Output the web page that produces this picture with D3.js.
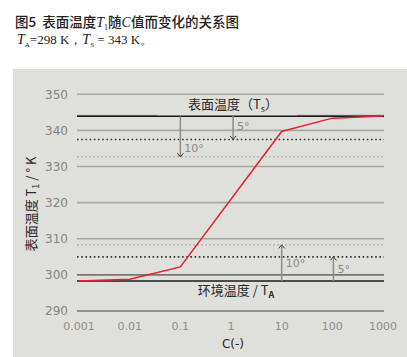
<!DOCTYPE html>
<html><head><meta charset="utf-8">
<script src="https://cdn.jsdelivr.net/npm/d3@7"></script>
<style>body{margin:0;background:#fff}svg{display:block}</style>
</head><body>
<svg id="c" width="407" height="357"></svg>
<script>
// Data
const xTicks = [0.001, 0.01, 0.1, 1, 10, 100, 1000];
const xTickLabels = ["0.001", "0.01", "0.1", "1", "10", "100", "1000"];
const yTicks = [290, 300, 310, 320, 330, 340, 350];
const curveC = [0.001, 0.01, 0.1, 10, 100, 1000];
const curveT = [298.3, 298.8, 302.2, 339.7, 343.4, 344.0];
const surfaceT = 343.9;   // drawn line Ts
const ambientT = 298.3;   // drawn line TA
const dotStrong = [337.5, 305.0];  // 5° lines
const dotLight = [332.7, 308.3];   // 10° lines
const arrows = [
  {c: 0.1,  from: 343.9, to: 332.7, label: "10°"},
  {c: 1.1,  from: 343.9, to: 337.5, label: "5°"},
  {c: 10,   from: 298.3, to: 308.3, label: "10°"},
  {c: 105,  from: 298.3, to: 305.0, label: "5°"}
];

const svg = d3.select("#c");
const x = d3.scaleLog().domain([0.001, 1000]).range([79, 383]);
const y = d3.scaleLinear().domain([290, 350]).range([311, 94.3]);
const x0 = 77, x1 = 384;

// panel
svg.append("rect").attr("x", 13).attr("y", 69).attr("width", 394).attr("height", 288).attr("fill", "#dfdfdb");

// title
const t1 = svg.append("text").attr("x", 15).attr("y", 27).attr("font-size", 13.5).attr("font-family", "'Noto Sans CJK SC', sans-serif").attr("font-weight", 500).attr("fill", "#222");
t1.append("tspan").text("图5\u00a0\u00a0表面温度");
t1.append("tspan").attr("font-family", "'Liberation Serif', serif").attr("font-style", "italic").attr("font-size", 14).text("T");
t1.append("tspan").attr("font-family", "'Liberation Serif', serif").attr("font-size", 8).attr("dy", 3).text("1");
t1.append("tspan").attr("dy", -3).text("随");
t1.append("tspan").attr("font-family", "'Liberation Serif', serif").attr("font-style", "italic").attr("font-size", 14).text("C");
t1.append("tspan").text("值而变化的关系图");

const t2 = svg.append("text").attr("x", 17).attr("y", 44).attr("font-size", 13).attr("font-family", "'Liberation Serif', serif").attr("fill", "#222");
t2.append("tspan").attr("font-style", "italic").attr("font-size", 14).text("T");
t2.append("tspan").attr("font-size", 7).attr("dy", 3).text("A");
t2.append("tspan").attr("dy", -3).text("=298 K，");
t2.append("tspan").attr("font-style", "italic").attr("font-size", 14).text("T");
t2.append("tspan").attr("font-size", 7).attr("dy", 3).text("S");
t2.append("tspan").attr("dy", -3).text("\u00a0= 343 K。");

// gridlines
svg.append("g").selectAll("line").data(yTicks).join("line")
  .attr("x1", x0).attr("x2", x1).attr("y1", d => y(d)).attr("y2", d => y(d))
  .attr("stroke", d => d === 290 ? "#7a7a6c" : (d === 300 ? "#777770" : "#a9a99d")).attr("stroke-width", 1.6);

// y tick labels
svg.append("g").selectAll("text").data(yTicks).join("text")
  .attr("x", 68).attr("y", d => y(d)).attr("dy", "0.36em").attr("text-anchor", "end")
  .attr("font-size", 12).attr("font-family", "'DejaVu Sans', sans-serif").attr("fill", "#85857f").text(d => d);

// x tick labels
svg.append("g").selectAll("text").data(xTicks).join("text")
  .attr("x", d => x(d)).attr("y", 330).attr("text-anchor", "middle")
  .attr("font-size", 11).attr("font-family", "'DejaVu Sans', sans-serif").attr("fill", "#8e8e89")
  .text((d, i) => xTickLabels[i]);

// dotted lines
svg.append("g").selectAll("line").data(dotLight).join("line")
  .attr("x1", x0).attr("x2", x1).attr("y1", d => y(d)).attr("y2", d => y(d))
  .attr("stroke", "#9a9a94").attr("stroke-width", 0.9).attr("stroke-dasharray", "2,2");
svg.append("g").selectAll("line").data(dotStrong).join("line")
  .attr("x1", x0).attr("x2", x1).attr("y1", d => y(d)).attr("y2", d => y(d))
  .attr("stroke", "#333").attr("stroke-width", 1.6).attr("stroke-dasharray", "1.6,2.6");

// light gray segments above top black line
[[0.001, 0.035], [20, 1000]].forEach(s => {
  svg.append("line").attr("x1", s[0] === 0.001 ? x0 : x(s[0])).attr("x2", s[1] === 1000 ? x1 : x(s[1]))
    .attr("y1", y(surfaceT) - 1).attr("y2", y(surfaceT) - 1).attr("stroke", "#8a8a84").attr("stroke-width", 1);
});

// black lines
[surfaceT, ambientT].forEach(v => {
  svg.append("line").attr("x1", x0).attr("x2", x1).attr("y1", y(v)).attr("y2", y(v))
    .attr("stroke", "#1a1a1a").attr("stroke-width", 1.5);
});

// arrows
arrows.forEach(a => {
  const ax = x(a.c), ya = y(a.from), yb = y(a.to);
  const dir = yb > ya ? 1 : -1;
  svg.append("line").attr("x1", ax).attr("x2", ax).attr("y1", ya).attr("y2", yb - dir * 0.5)
    .attr("stroke", "#8c8c88").attr("stroke-width", 1.5);
  svg.append("path").attr("d", `M${ax - 3},${yb - dir * 3.5} L${ax},${yb} L${ax + 3},${yb - dir * 3.5}`)
    .attr("fill", "none").attr("stroke", "#333").attr("stroke-width", 1);
  const ly = dir > 0 ? (ya + yb) / 2 + 8 : (ya + yb) / 2 + 4;
  svg.append("text").attr("x", ax + 4).attr("y", dir > 0 ? (a.label === "5°" ? ya + 14 : yb - 5) : ly)
    .attr("font-size", 11).attr("font-family", "'DejaVu Sans', sans-serif").attr("fill", "#8a8a85").text(a.label);
});

// curve
const line = d3.line().x(d => x(d[0])).y(d => y(d[1]));
svg.append("path").datum(curveC.map((c, i) => [c, curveT[i]])).attr("d", line)
  .attr("fill", "none").attr("stroke", "#e8202e").attr("stroke-width", 1.5);

// line labels
const ts = svg.append("text").attr("x", 233).attr("y", 109).attr("text-anchor", "middle")
  .attr("font-size", 13).attr("font-family", "'Noto Sans CJK SC', sans-serif").attr("fill", "#2a2a2a");
ts.append("tspan").text("表面温度（T");
ts.append("tspan").attr("font-size", 9).attr("dy", 3).text("s");
ts.append("tspan").attr("dy", -3).text("）");

const ta = svg.append("text").attr("x", 236).attr("y", 295).attr("text-anchor", "middle")
  .attr("font-size", 13).attr("font-family", "'Noto Sans CJK SC', sans-serif").attr("fill", "#2a2a2a");
ta.append("tspan").text("环境温度 / T");
ta.append("tspan").attr("font-size", 9).attr("font-weight", "bold").attr("dy", 3).text("A");

// axis titles
const yt = svg.append("text").attr("transform", "translate(36,204) rotate(-90)").attr("text-anchor", "middle")
  .attr("font-size", 13).attr("font-family", "'Noto Sans CJK SC', sans-serif").attr("fill", "#2a2a2a");
yt.append("tspan").text("表面温度 T");
yt.append("tspan").attr("font-size", 9).attr("dy", 3).text("1");
yt.append("tspan").attr("dy", -3).text(" / ° K");

svg.append("text").attr("x", 233).attr("y", 348).attr("text-anchor", "middle")
  .attr("font-size", 12).attr("font-family", "'DejaVu Sans', sans-serif").attr("fill", "#2a2a2a").text("C(-)");
</script>
</body></html>
